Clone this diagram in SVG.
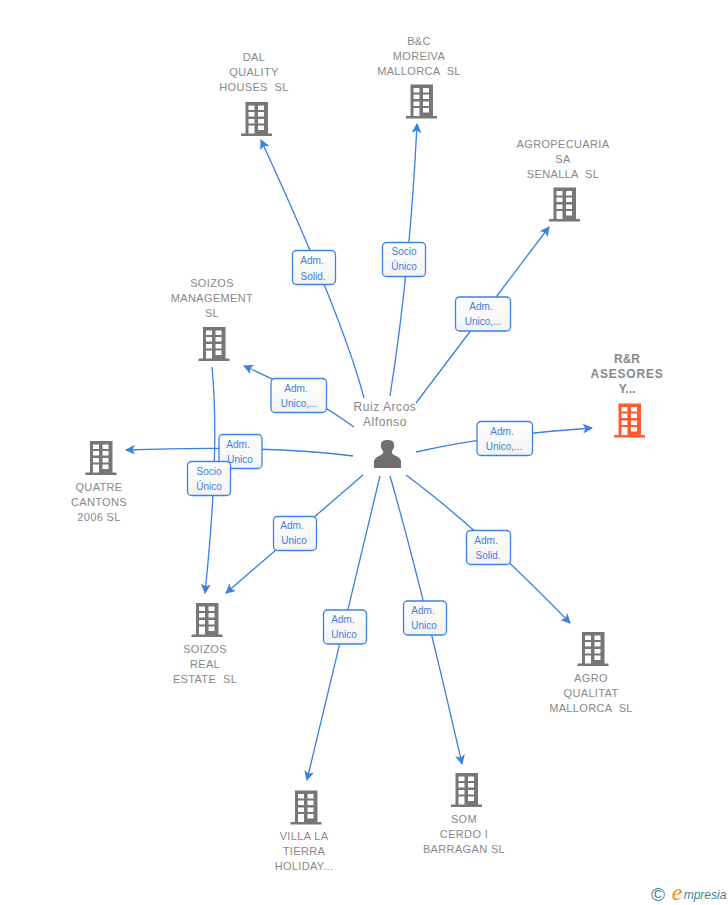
<svg xmlns="http://www.w3.org/2000/svg" width="728" height="905" viewBox="0 0 728 905">
<style>
text{font-family:"Liberation Sans",Arial,sans-serif;text-anchor:middle;white-space:pre}
.n{font-size:11px;fill:#888;letter-spacing:.35px}
.r{font-size:12px;fill:#888;font-weight:bold}
.p{font-size:12px;fill:#888;letter-spacing:.55px}
.l{font-size:10px;fill:#3b7fe0}
.c{fill:none;stroke:#3b7fe0;stroke-width:1.3;marker-end:url(#a)}
.b{fill:url(#g);stroke:#3b83e6;stroke-width:1.3}
</style>
<defs>
<linearGradient id="g" x1="0" y1="0" x2="0" y2="1"><stop offset="0" stop-color="#fff"/><stop offset="1" stop-color="#f3f3f3"/></linearGradient>
<marker id="a" markerUnits="userSpaceOnUse" markerWidth="12" markerHeight="12" refX="9" refY="5" orient="auto"><path d="M0 0L10 5L0 10L2.500 5Z" fill="#3b7fe0"/></marker>
<path id="bld" fill-rule="evenodd" d="M4.500 0H27V31.500H31V34H0V31.500H4.500ZM7.500 3.500V8H13.500V3.500ZM17 3.500V8H23V3.500ZM7.500 10V14.500H13.500V10ZM17 10V14.500H23V10ZM7.500 17V21.500H13.500V17ZM17 17V21.500H23V17ZM7.500 23.500V31.500H13.500V23.500ZM17 23.500V28H23V23.500Z"/>
</defs>
<g id="connectors">
<path class="c" d="M364 398Q343 318 261 140"/>
<path class="c" d="M390 396Q410 270 417 124"/>
<path class="c" d="M416 403L549 227"/>
<path class="c" d="M416 452Q490 435 592 428"/>
<path class="c" d="M354 427Q310 395 244 366"/>
<path class="c" d="M353 456Q270 445 126 450"/>
<path class="c" d="M212 367Q220 450 205 593"/>
<path class="c" d="M363 475L226 593"/>
<path class="c" d="M380 476L307 780"/>
<path class="c" d="M390 476Q420 580 462 764"/>
<path class="c" d="M406 475Q480 530 570 623"/>
</g>
<g id="edge-labels">
<g><rect class="b" x="292.500" y="250.500" width="43" height="34" rx="4"/><text class="l" x="312" y="264">Adm.</text><text class="l" x="313" y="280">Solid.</text></g>
<g><rect class="b" x="382.500" y="242.500" width="43" height="34" rx="4"/><text class="l" x="404" y="255">Socio</text><text class="l" x="404" y="270">Único</text></g>
<g><rect class="b" x="455.500" y="297" width="55" height="34" rx="4"/><text class="l" x="481" y="310">Adm.</text><text class="l" x="483" y="325">Unico,...</text></g>
<g><rect class="b" x="477" y="421.500" width="55.500" height="34" rx="4"/><text class="l" x="502" y="435">Adm.</text><text class="l" x="504" y="450">Unico,...</text></g>
<g><rect class="b" x="271" y="378.500" width="55.500" height="34" rx="4"/><text class="l" x="296" y="392">Adm.</text><text class="l" x="299" y="407">Unico,...</text></g>
<g><rect class="b" x="219" y="434.500" width="43" height="34" rx="4"/><text class="l" x="238" y="448">Adm.</text><text class="l" x="240" y="463">Unico</text></g>
<g><rect class="b" x="187.500" y="461.500" width="43" height="34" rx="4"/><text class="l" x="209" y="475">Socio</text><text class="l" x="209" y="490">Único</text></g>
<g><rect class="b" x="273.500" y="516.500" width="43" height="34" rx="4"/><text class="l" x="292" y="529">Adm.</text><text class="l" x="294" y="544">Unico</text></g>
<g><rect class="b" x="323.500" y="610" width="43" height="34" rx="4"/><text class="l" x="343" y="623">Adm.</text><text class="l" x="344" y="638">Unico</text></g>
<g><rect class="b" x="403.500" y="601" width="43" height="34" rx="4"/><text class="l" x="423" y="614">Adm.</text><text class="l" x="424" y="629">Unico</text></g>
<g><rect class="b" x="466.500" y="530.500" width="44" height="34" rx="4"/><text class="l" x="486" y="544">Adm.</text><text class="l" x="488" y="559">Solid.</text></g>
</g>
<g id="person"><text class="p" x="385" y="411">Ruiz Arcos</text><text class="p" x="385" y="426">Alfonso</text>
<path fill="#6f6f6f" d="M374 468V461Q375 457 381 455Q384 453 383 451Q380 447 381 444Q381 440 387.500 440Q394 440 394 444Q395 447 392 451Q391 453 394 455Q400 457 401 461V468Z"/></g>
<g id="dal" fill="#777"><text class="n" x="254" y="61">DAL</text><text class="n" x="254" y="76">QUALITY</text><text class="n" x="254" y="91">HOUSES  SL</text><use href="#bld" x="241" y="102"/></g>
<g id="bc" fill="#777"><text class="n" x="419" y="45">B&amp;C</text><text class="n" x="419" y="60">MOREIVA</text><text class="n" x="419" y="75">MALLORCA  SL</text><use href="#bld" x="406" y="84.500"/></g>
<g id="agropecuaria" fill="#777"><text class="n" x="563" y="148">AGROPECUARIA</text><text class="n" x="563" y="163">SA</text><text class="n" x="563" y="178">SENALLA  SL</text><use href="#bld" x="549" y="187.500"/></g>
<g id="rr" fill="#ff5a30"><text class="r" x="627" y="363">R&amp;R</text><text class="r" x="627" y="378" letter-spacing=".8">ASESORES</text><text class="r" x="627" y="393">Y...</text><use href="#bld" x="614" y="403.500"/></g>
<g id="soizos-m" fill="#777"><text class="n" x="212" y="287">SOIZOS</text><text class="n" x="212" y="302">MANAGEMENT</text><text class="n" x="212" y="317">SL</text><use href="#bld" x="198.500" y="327"/></g>
<g id="quatre" fill="#777"><use href="#bld" x="85.500" y="441"/><text class="n" x="99" y="491">QUATRE</text><text class="n" x="99" y="506">CANTONS</text><text class="n" x="99" y="521">2006 SL</text></g>
<g id="soizos-r" fill="#777"><use href="#bld" x="191.500" y="603"/><text class="n" x="205" y="653">SOIZOS</text><text class="n" x="205" y="668">REAL</text><text class="n" x="205" y="683">ESTATE  SL</text></g>
<g id="agro-q" fill="#777"><use href="#bld" x="577.500" y="632"/><text class="n" x="591" y="682">AGRO</text><text class="n" x="591" y="697">QUALITAT</text><text class="n" x="591" y="712">MALLORCA  SL</text></g>
<g id="villa" fill="#777"><use href="#bld" x="290.500" y="790.500"/><text class="n" x="304" y="840">VILLA LA</text><text class="n" x="304" y="855">TIERRA</text><text class="n" x="304" y="870">HOLIDAY...</text></g>
<g id="som" fill="#777"><use href="#bld" x="451" y="773"/><text class="n" x="464" y="823">SOM</text><text class="n" x="464" y="838">CERDO I</text><text class="n" x="464" y="853">BARRAGAN SL</text></g>
<g id="brand"><text x="658" y="901" font-size="19" fill="#3f7f9a">©</text><text x="677" y="900" font-size="24" fill="#f08a20" font-style="italic" style="font-family:'Liberation Serif',serif">e</text><text x="705" y="899" font-size="12" fill="#3f7f9a" font-style="italic">mpresia</text></g>
</svg>
